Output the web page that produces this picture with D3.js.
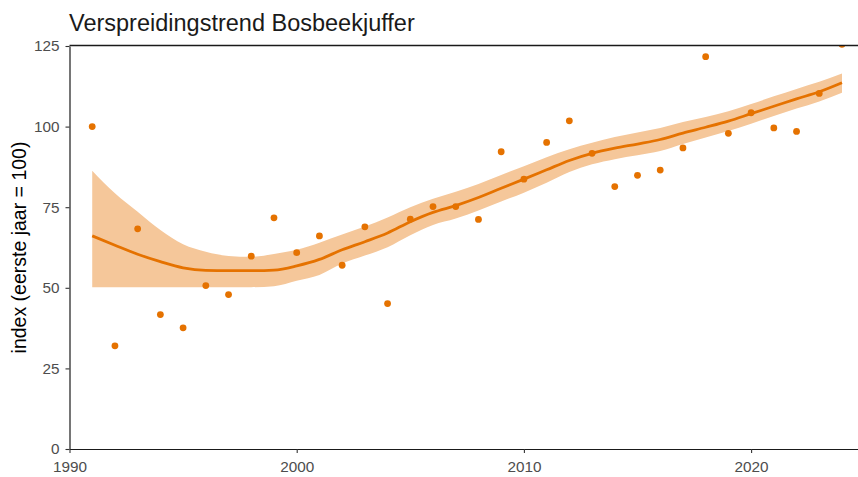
<!DOCTYPE html>
<html>
<head>
<meta charset="utf-8">
<script src="https://cdn.jsdelivr.net/npm/d3@7"></script>
<style>
  body { margin: 0; background: #fff; }
  svg { display: block; font-family: "Liberation Sans", Arial, sans-serif; }
</style>
</head>
<body>
<div id="wrapper"></div>
<script>
// jaarlijkse index (eerste jaar = 100)
var years = [1991,1992,1993,1994,1995,1996,1997,1998,1999,2000,2001,2002,2003,2004,2005,2006,2007,
             2008,2009,2010,2011,2012,2013,2014,2015,2016,2017,2018,2019,2020,2021,2022,2023,2024];
var indexValues = [100,32,68.3,41.7,37.6,50.7,47.9,59.8,71.7,60.9,66.1,57,68.9,45.1,71.3,75.2,75.2,
                   71.2,92.2,83.7,95.1,101.8,91.7,81.4,84.9,86.5,93.4,121.7,97.9,104.3,99.6,98.5,110.3,125.5];

// trendlijn (loess) met betrouwbaarheidsband
var trendFit = [66.1,63.2,60.4,58.1,56.2,55.4,55.3,55.3,55.5,56.8,58.8,61.8,64.3,67.0,70.5,73.4,75.5,
                78.0,80.9,83.7,86.6,89.5,91.7,93.3,94.6,96.0,98.0,99.8,101.7,104.0,106.3,108.6,110.8,113.6];
var trendUpper = [86.3,79.3,73.6,67.9,63.5,61.2,59.9,59.6,60.5,61.8,64.0,66.5,69.0,71.8,75.0,77.6,79.8,
                  82.2,85.0,87.7,90.5,93.0,95.0,96.8,98.2,99.6,101.4,103.0,104.8,107.0,109.4,111.7,113.9,116.5];
var trendLower = [50.2,50.2,50.2,50.2,50.2,50.2,50.2,50.2,50.5,52.2,54.0,57.5,60.0,62.6,66.3,69.5,71.5,
                  74.0,76.8,79.5,82.6,85.9,88.3,89.9,91.1,92.4,94.6,96.6,98.6,100.9,103.3,105.6,107.8,110.5];

var xTicks = [1990, 2000, 2010, 2020];
var yTicks = [0, 25, 50, 75, 100, 125];

var title = "Verspreidingstrend Bosbeekjuffer";
var yTitle = "index (eerste jaar = 100)";

var width = 858, height = 477;
var orange = "#e57200";
var band = "#f5c79a";

var svg = d3.select("#wrapper").append("svg")
    .attr("width", width)
    .attr("height", height);

var x = d3.scaleLinear().domain([1990, 2025]).range([69.5, 69.5 + 35 * 22.72]);
var y = d3.scaleLinear().domain([0, 125]).range([449, 46]);

var rows = years.map((yr, i) => ({
    year: yr, value: indexValues[i], fit: trendFit[i], lo: trendLower[i], hi: trendUpper[i]
}));

svg.append("clipPath").attr("id", "panel")
  .append("rect")
    .attr("x", x(1990)).attr("y", y(125) - 1)
    .attr("width", width).attr("height", y(0) - y(125) + 1);

var plot = svg.append("g").attr("clip-path", "url(#panel)");

plot.append("path")
    .datum(rows)
    .attr("fill", band)
    .attr("d", d3.area()
        .x(d => x(d.year))
        .y0(d => y(d.lo))
        .y1(d => y(d.hi))
        .curve(d3.curveMonotoneX));

plot.append("path")
    .datum(rows)
    .attr("fill", "none")
    .attr("stroke", orange)
    .attr("stroke-width", 2.8)
    .attr("d", d3.line()
        .x(d => x(d.year))
        .y(d => y(d.fit))
        .curve(d3.curveMonotoneX));

plot.selectAll("circle")
    .data(rows)
    .enter()
    .append("circle")
    .attr("cx", d => x(d.year))
    .attr("cy", d => y(d.value))
    .attr("r", 3.4)
    .attr("fill", orange);

// assen
var yAxis = svg.append("g")
    .attr("transform", `translate(${x(1990)},0)`)
    .call(d3.axisLeft(y).tickValues(yTicks).tickSize(4).tickSizeOuter(0).tickPadding(6));

var xAxis = svg.append("g")
    .attr("transform", `translate(0,${y(0)})`)
    .call(d3.axisBottom(x).tickValues(xTicks).tickFormat(d3.format("d"))
        .tickSize(4).tickSizeOuter(0).tickPadding(8.5));

[yAxis, xAxis].forEach(a => {
    a.select(".domain").attr("stroke", "#1a1a1a").attr("stroke-width", 1.2);
    a.selectAll(".tick line").attr("stroke", "#333").attr("stroke-width", 1.1);
    a.selectAll(".tick text")
        .attr("fill", "#4d4d4d")
        .style("font-size", "15.3px")
        .style("font-family", "'Liberation Sans', Arial, sans-serif");
});

// bovenrand
svg.append("line")
    .attr("x1", x(1990)).attr("x2", width)
    .attr("y1", y(125) - 0.5).attr("y2", y(125) - 0.5)
    .attr("stroke", "#1a1a1a")
    .attr("stroke-width", 1.4);

svg.append("text")
    .attr("x", 69)
    .attr("y", 31)
    .attr("fill", "#1a1a1a")
    .style("font-size", "23.5px")
    .text(title);

svg.append("text")
    .attr("transform", `translate(26,${(y(0) + y(125)) / 2}) rotate(-90)`)
    .attr("text-anchor", "middle")
    .attr("fill", "#000")
    .style("font-size", "19.5px")
    .text(yTitle);
</script>
</body>
</html>
